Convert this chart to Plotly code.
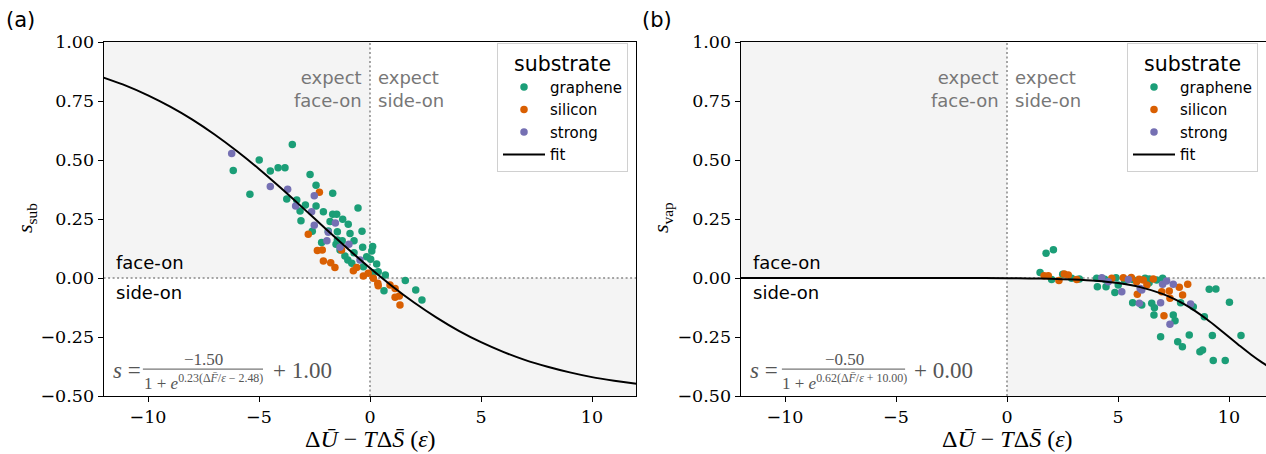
import plotly.graph_objects as go

# ---------------- data ----------------
categories = ["graphene", "silicon", "strong"]
colors = ["#1b9e77", "#d95f02", "#7570b3"]

# panel (a): s_sub
a_graphene_x = [-6.16, -4.99, -3.50, -5.41, -4.49, -4.14, -3.83, -3.75, -3.30, -3.15, -3.11, -2.91, -2.70, -2.43,
                -1.68, -2.43, -2.10, -1.80, -1.68, -1.50, -1.23, -0.98, -0.54, -2.60, -1.88, -1.47, -0.90, -0.36,
                -2.18, -1.47, -1.25, -0.72, -1.53, -1.35, -0.33, 0.12, 0.08, -1.13, -0.72, -0.15, -1.00, -0.82,
                -0.30, 0.03, 0.30, 0.15, 0.37, 0.69, 0.63, 1.59, 2.06, 2.34]
a_graphene_y = [0.455, 0.500, 0.566, 0.355, 0.453, 0.467, 0.467, 0.335, 0.330, 0.284, 0.243, 0.309, 0.439, 0.393,
                0.359, 0.305, 0.281, 0.239, 0.270, 0.270, 0.249, 0.228, 0.297, 0.198, 0.199, 0.196, 0.189, 0.198,
                0.150, 0.161, 0.158, 0.158, 0.143, 0.119, 0.130, 0.133, 0.114, 0.093, 0.107, 0.090, 0.076, 0.062,
                0.048, 0.079, 0.059, 0.022, 0.027, 0.013, -0.054, -0.011, -0.051, -0.093]
a_silicon_x = [-2.28, -2.78, -2.37, -2.15, -1.28, -2.10, -1.77, -1.58, -0.75, -0.60, -0.30, -0.08, 0.15, 0.35,
               0.37, 0.90, 1.13, 1.13, 1.32, 1.35]
a_silicon_y = [0.363, 0.185, 0.116, 0.119, 0.119, 0.072, 0.065, 0.044, 0.031, 0.045, 0.008, 0.020, -0.001, -0.022,
               -0.033, -0.030, -0.044, -0.082, -0.076, -0.114]
a_strong_x = [-6.23, -4.49, -3.71, -3.35, -2.51, -2.63, -2.51, -1.56, -1.88, -1.94, -1.35, -0.95, -0.45]
a_strong_y = [0.528, 0.388, 0.376, 0.305, 0.349, 0.281, 0.223, 0.233, 0.194, 0.158, 0.130, 0.143, 0.076]

a_fit_x = [-12, -11, -10, -9, -8, -7, -6, -5, -4, -3, -2, -1, 0, 1, 2, 3, 4, 5, 6, 7, 8, 9, 10, 11, 12]
a_fit_y = [0.849, 0.815, 0.774, 0.726, 0.671, 0.608, 0.538, 0.462, 0.380, 0.295, 0.209, 0.124, 0.042, -0.035,
           -0.105, -0.168, -0.224, -0.272, -0.313, -0.348, -0.376, -0.400, -0.420, -0.435, -0.448]

# panel (b): s_vap
b_graphene_x = [1.76, 2.09, 1.49, 2.01, 2.51, 2.91, 3.26, 4.04, 4.07, 4.46, 4.91, 5.01, 4.86, 5.66, 6.22, 5.66,
                6.07, 6.41, 6.74, 7.01, 9.11, 9.41, 10.02, 6.52, 7.82, 8.39, 6.64, 6.62, 7.49, 7.57, 8.89, 6.92,
                8.21, 9.25, 10.54, 7.69, 7.90, 8.69, 8.81, 9.29, 9.83, 4.40, 5.30, 6.40]
b_graphene_y = [0.105, 0.120, 0.023, -0.006, 0.016, -0.001, -0.004, -0.001, -0.037, -0.037, 0.001, -0.030, -0.061,
                -0.006, -0.001, -0.105, -0.114, -0.004, -0.008, -0.001, -0.048, -0.047, -0.103, -0.107, -0.105,
                -0.122, -0.126, -0.157, -0.157, -0.181, -0.164, -0.249, -0.242, -0.244, -0.244, -0.270, -0.291,
                -0.312, -0.305, -0.350, -0.350, -0.005, -0.012, -0.020]
b_silicon_x = [1.67, 1.86, 2.34, 2.58, 2.76, 3.14, 4.72, 5.24, 5.84, 5.87, 6.14, 6.59, 7.76, 8.14, 6.97, 7.31,
               7.91, 7.34, 7.07, 5.60, 5.95, 6.30]
b_silicon_y = [0.010, 0.010, -0.011, 0.017, 0.013, -0.006, -0.001, 0.001, -0.016, -0.069, -0.008, -0.004, -0.039,
               -0.027, -0.058, -0.055, -0.072, -0.086, -0.160, 0.002, -0.005, -0.030]
b_strong_x = [4.27, 4.56, 5.47, 5.17, 6.00, 5.96, 7.01, 7.19, 7.49, 6.92, 8.27, 7.34, 6.07]
b_strong_y = [0.001, -0.016, -0.006, -0.058, -0.044, -0.107, -0.027, -0.013, -0.027, -0.105, -0.110, -0.196, -0.051]

b_fit_x = [-12, -10, -8, -6, -4, -2, 0, 1, 2, 3, 4, 5, 6, 7, 7.5, 8, 8.5, 9, 9.5, 10, 10.5, 11, 11.5, 12]
b_fit_y = [0, 0, 0, 0, 0, -0.0001, -0.001, -0.0019, -0.0035, -0.0064, -0.0118, -0.0216, -0.0386, -0.0674,
           -0.0876, -0.112, -0.1415, -0.175, -0.2116, -0.25, -0.2885, -0.325, -0.3585, -0.388]

y_ticks = [-0.5, -0.25, 0.0, 0.25, 0.5, 0.75, 1.0]
x_ticks = [-10, -5, 0, 5, 10]
formula_a = ("−1.50", "1 + <i>e</i><sup>0.23(Δ<i>F̄</i>/<i>ε</i> − 2.48)</sup>", "+ 1.00")
formula_b = ("−0.50", "1 + <i>e</i><sup>0.62(Δ<i>F̄</i>/<i>ε</i> + 10.00)</sup>", "+ 0.00")

# ---------------- figure ----------------
W, H = 1266, 454
fig = go.Figure()

panels = [
    dict(xa="x", ya="y", leg="legend",
         data=[(a_graphene_x, a_graphene_y), (a_silicon_x, a_silicon_y), (a_strong_x, a_strong_y)],
         fit=(a_fit_x, a_fit_y)),
    dict(xa="x2", ya="y2", leg="legend2",
         data=[(b_graphene_x, b_graphene_y), (b_silicon_x, b_silicon_y), (b_strong_x, b_strong_y)],
         fit=(b_fit_x, b_fit_y)),
]

for p in panels:
    for name, col, (xs, ys) in zip(categories, colors, p["data"]):
        fig.add_trace(go.Scatter(x=xs, y=ys, mode="markers", name=name,
                                 marker=dict(color=col, size=7.5, line=dict(width=0)),
                                 xaxis=p["xa"], yaxis=p["ya"], legend=p["leg"]))
    fig.add_trace(go.Scatter(x=p["fit"][0], y=p["fit"][1], mode="lines", name="fit",
                             line=dict(color="black", width=2, shape="spline", smoothing=0.6),
                             xaxis=p["xa"], yaxis=p["ya"], legend=p["leg"]))

ydom = [1 - 396 / H, 1 - 42 / H]
xdom_a = [103.6 / W, 636.4 / W]
xdom_b = [740.6 / W, 1.0]
xr_a = [-12, 12]
xr_b = [-12, (W - 1007) / 22.2]

tickfont = dict(family="DejaVu Serif", size=17.5, color="black")
common_x = dict(tickvals=x_ticks, ticks="outside", ticklen=5, tickwidth=1, tickcolor="black",
                showgrid=False, zeroline=False, showline=True, linecolor="black", linewidth=1,
                mirror=True, tickfont=tickfont, automargin=False)
common_y = dict(tickvals=y_ticks, tickformat=".2f", range=[-0.5, 1.0], ticks="outside", ticklen=5,
                tickwidth=1, tickcolor="black", showgrid=False, zeroline=False, showline=True,
                linecolor="black", linewidth=1, tickfont=tickfont, automargin=False)

fig.update_layout(
    width=W, height=H, margin=dict(l=0, r=0, t=0, b=0, pad=0, autoexpand=False),
    paper_bgcolor="white", plot_bgcolor="white",
    xaxis=dict(domain=xdom_a, range=xr_a, anchor="y", **common_x),
    yaxis=dict(domain=ydom, anchor="x", mirror=True, **common_y),
    xaxis2=dict(domain=xdom_b, range=xr_b, anchor="y2", **common_x),
    yaxis2=dict(domain=ydom, anchor="x2", mirror=False, **common_y),
    showlegend=True,
)

leg_common = dict(bgcolor="white", bordercolor="#d0d0d0", borderwidth=1,
                  font=dict(family="DejaVu Sans", size=15, color="black"),
                  title=dict(text="substrate", side="top center",
                             font=dict(family="DejaVu Sans", size=20.5, color="black")),
                  xanchor="right", yanchor="top", tracegroupgap=0, itemwidth=42)
fig.update_layout(legend=dict(x=628 / W, y=1 - 43 / H, **leg_common),
                  legend2=dict(x=1258 / W, y=1 - 43 / H, **leg_common))

shapes = []
annotations = []
gray = "#f4f4f4"
fcol = "#555555"
for xa, ya, xr, formula, fx0, fx1, fxn, fxp in [
    ("x", "y", xr_a, formula_a, -10.23, -4.82, -7.48, -4.45),
    ("x2", "y2", xr_b, formula_b, -10.14, -4.59, -7.34, -4.27),
]:
    shapes += [
        dict(type="rect", xref=xa, yref=ya, x0=xr[0], x1=0, y0=0, y1=1.0, fillcolor=gray,
             line=dict(width=0), layer="below"),
        dict(type="rect", xref=xa, yref=ya, x0=0, x1=xr[1], y0=-0.5, y1=0, fillcolor=gray,
             line=dict(width=0), layer="below"),
        dict(type="line", xref=xa, yref=ya, x0=0, x1=0, y0=-0.5, y1=1.0,
             line=dict(color="#888888", width=1.5, dash="2px,2.5px"), layer="below"),
        dict(type="line", xref=xa, yref=ya, x0=xr[0], x1=xr[1], y0=0, y1=0,
             line=dict(color="#888888", width=1.5, dash="2px,2.5px"), layer="below"),
        dict(type="line", xref=xa, yref=ya, x0=fx0, x1=fx1, y0=-0.386, y1=-0.386,
             line=dict(color=fcol, width=1)),
    ]
    tf = dict(family="DejaVu Sans", size=18, color="#777777")
    annotations += [
        dict(xref=xa, yref=ya, x=0, y=0.80, text="expect<br>face-on", showarrow=False, xanchor="right",
             align="right", xshift=-6, font=tf),
        dict(xref=xa, yref=ya, x=0, y=0.80, text="expect<br>side-on", showarrow=False, xanchor="left",
             align="left", xshift=6, font=tf),
        dict(xref=xa, yref=ya, x=-11.55, y=0.066, text="face-on", showarrow=False, xanchor="left",
             font=dict(family="DejaVu Sans", size=18, color="black")),
        dict(xref=xa, yref=ya, x=-11.55, y=-0.062, text="side-on", showarrow=False, xanchor="left",
             font=dict(family="DejaVu Sans", size=18, color="black")),
        dict(xref=xa, yref=ya, x=-11.65, y=-0.39, text="<i>s</i> =", showarrow=False, xanchor="left",
             font=dict(family="Liberation Serif", size=23, color=fcol)),
        dict(xref=xa, yref=ya, x=fxn, y=-0.345, text=formula[0], showarrow=False, xanchor="center",
             font=dict(family="Liberation Serif", size=17, color=fcol)),
        dict(xref=xa, yref=ya, x=fxn, y=-0.44, text=formula[1], showarrow=False, xanchor="center",
             font=dict(family="Liberation Serif", size=17, color=fcol)),
        dict(xref=xa, yref=ya, x=fxp, y=-0.39, text=formula[2], showarrow=False, xanchor="left",
             font=dict(family="Liberation Serif", size=23, color=fcol)),
    ]

mathfont = dict(family="Liberation Serif", size=24, color="black")
xtitle = "Δ<i>Ū</i>\u2005−\u2005<i>T</i>Δ<i>S̄</i> (<i>ε</i>)"
for cx in (370, 1007):
    annotations.append(dict(xref="paper", yref="paper", x=cx / W, y=1 - 439 / H,
                            text=xtitle, showarrow=False,
                            xanchor="center", yanchor="middle", font=mathfont))
for cx, sub in ((26, "sub"), (662, "vap")):
    annotations.append(dict(xref="paper", yref="paper", x=cx / W, y=1 - 218 / H,
                            text="<i>s</i><sub>" + sub + "</sub>", showarrow=False, textangle=-90,
                            xanchor="center", yanchor="middle",
                            font=dict(family="Liberation Serif", size=22, color="black")))
for cx, lab in ((20, "(a)"), (657, "(b)")):
    annotations.append(dict(xref="paper", yref="paper", x=cx / W, y=1 - 20 / H, text=lab,
                            showarrow=False, xanchor="center", yanchor="middle",
                            font=dict(family="DejaVu Sans", size=21, color="black")))

fig.update_layout(shapes=shapes, annotations=annotations)
fig.write_html("out.html")
